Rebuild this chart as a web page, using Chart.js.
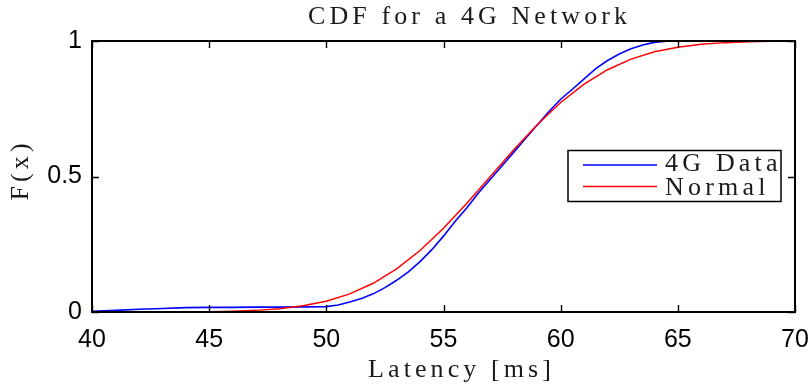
<!DOCTYPE html>
<html>
<head>
<meta charset="utf-8">
<script src="https://cdn.jsdelivr.net/npm/chart.js@4/dist/chart.umd.min.js"></script>
<style>
  html, body { margin: 0; padding: 0; background: #fff; }
  #wrap { width: 811px; height: 387px; }
</style>
</head>
<body>
<div id="wrap"><canvas id="c" width="811" height="387"></canvas></div>
<script>
// ---- data ----
const titleText = 'CDF for a 4G Network';
const xAxisTitle = 'Latency [ms]';
const yAxisTitle = 'F(x)';
const seriesLabels = ['4G Data', 'Normal'];

const xTickValues = [40, 45, 50, 55, 60, 65, 70];
const yTickValues = [0, 0.5, 1];

// empirical CDF of the measured 4G latency (blue)
const dataLatency = [40, 41, 42, 43, 44, 45, 46, 47, 48, 49, 50, 50.5, 51, 51.5, 52, 52.5, 53, 53.5, 54, 54.5,
                     55, 55.5, 56, 56.5, 57, 57.5, 58, 58.5, 59, 59.5, 60, 60.5, 61, 61.5, 62, 62.5, 63, 63.5,
                     64, 64.5, 65, 66, 67, 68, 69, 70];
const dataCdf = [0.003, 0.006, 0.010, 0.013, 0.016, 0.017, 0.017, 0.018, 0.018, 0.019, 0.020, 0.026, 0.037, 0.050,
                 0.067, 0.090, 0.117, 0.148, 0.186, 0.230, 0.280, 0.335, 0.385, 0.440, 0.490, 0.540, 0.590, 0.640,
                 0.690, 0.740, 0.785, 0.822, 0.860, 0.898, 0.928, 0.952, 0.971, 0.985, 0.995, 0.999, 1.000, 1.000,
                 1.000, 1.000, 1.000, 1.000];

// fitted normal CDF (red)
const normalLatency = [40, 41, 42, 43, 44, 45, 46, 47, 48, 49, 50, 51, 52, 53, 54, 55, 56, 57, 58, 59, 60,
                       61, 62, 63, 64, 65, 66, 67, 68, 69, 70];
const normalCdf = [0.000, 0.000, 0.0001, 0.0002, 0.0006, 0.0013, 0.003, 0.006, 0.012, 0.023, 0.040, 0.067, 0.106,
                   0.159, 0.227, 0.309, 0.401, 0.500, 0.599, 0.691, 0.773, 0.841, 0.894, 0.933, 0.960, 0.977,
                   0.988, 0.994, 0.997, 0.9987, 0.9994];

const toPoints = (xs, ys) => xs.map((x, i) => ({ x: x, y: ys[i] }));

const SERIF = '"Liberation Serif", "DejaVu Serif", serif';
const SANS = '"Liberation Sans", Arial, sans-serif';
const TEXT_COLOR = '#1a1a1a';
const SPACING = 4.1;

function spacedText(ctx, text, x, y, align, spacing) {
  ctx.save();
  let w;
  if ('letterSpacing' in ctx) {
    ctx.letterSpacing = spacing + 'px';
    w = ctx.measureText(text).width - spacing;
    ctx.textAlign = 'left';
    let sx = align === 'center' ? x - w / 2 : x;
    ctx.fillText(text, sx, y);
  } else {
    ctx.textAlign = 'left';
    const chars = Array.from(text);
    w = chars.reduce((s, ch) => s + ctx.measureText(ch).width, 0) + spacing * (chars.length - 1);
    let sx = align === 'center' ? x - w / 2 : x;
    for (const ch of chars) { ctx.fillText(ch, sx, y); sx += ctx.measureText(ch).width + spacing; }
  }
  ctx.restore();
}

const framePlugin = {
  id: 'frameAndLegend',
  afterDatasetsDraw(chart) {
    const { ctx, chartArea: a, scales } = chart;
    const xs = scales.x, ys = scales.y;
    ctx.save();
    // ticks (inward, mirrored)
    ctx.strokeStyle = '#000';
    ctx.lineWidth = 1.4;
    const tl = 7;
    ctx.beginPath();
    xTickValues.forEach(v => {
      const px = Math.round(xs.getPixelForValue(v)) + 0.5;
      ctx.moveTo(px, a.bottom); ctx.lineTo(px, a.bottom - tl);
      ctx.moveTo(px, a.top); ctx.lineTo(px, a.top + tl);
    });
    yTickValues.forEach(v => {
      const py = Math.round(ys.getPixelForValue(v)) + 0.5;
      ctx.moveTo(a.left, py); ctx.lineTo(a.left + tl, py);
      ctx.moveTo(a.right, py); ctx.lineTo(a.right - tl, py);
    });
    ctx.stroke();
    // frame
    ctx.lineWidth = 2;
    ctx.strokeRect(a.left, a.top, a.right - a.left, a.bottom - a.top);

    // legend box (inside plot, right side)
    const lx = a.right - 227, ly = ys.getPixelForValue(0.5) - 26;
    const lw = 213, lh = 51;
    ctx.fillStyle = '#fff';
    ctx.fillRect(lx, ly, lw, lh);
    ctx.lineWidth = 1.5;
    ctx.strokeStyle = '#000';
    ctx.strokeRect(lx, ly, lw, lh);
    const colors = chart.data.datasets.map(d => d.borderColor);
    const lineRows = [ly + 14.5, ly + 36];
    const textRows = [ly + 20, ly + 44.5];
    ctx.font = '26px ' + SERIF;
    ctx.textBaseline = 'alphabetic';
    seriesLabels.forEach((lab, i) => {
      ctx.strokeStyle = colors[i];
      ctx.lineWidth = 1.5;
      ctx.beginPath();
      ctx.moveTo(lx + 15, lineRows[i]); ctx.lineTo(lx + 89, lineRows[i]);
      ctx.stroke();
      ctx.fillStyle = TEXT_COLOR;
      spacedText(ctx, lab, lx + 97, textRows[i], 'left', 4.2);
    });
    ctx.restore();
  },
  afterDraw(chart) {
    const { ctx, chartArea: a } = chart;
    ctx.save();
    ctx.fillStyle = TEXT_COLOR;
    ctx.font = '26px ' + SERIF;
    ctx.textBaseline = 'alphabetic';
    const cx = (a.left + a.right) / 2;
    spacedText(ctx, titleText, cx + 24, 24, 'center', SPACING);
    spacedText(ctx, xAxisTitle, cx + 16, 377, 'center', SPACING);
    ctx.translate(28, 172);
    ctx.rotate(-Math.PI / 2);
    spacedText(ctx, yAxisTitle, 0, 0, 'center', SPACING);
    ctx.restore();
  }
};

new Chart(document.getElementById('c'), {
  type: 'line',
  data: {
    datasets: [
      { label: seriesLabels[0], data: toPoints(dataLatency, dataCdf), borderColor: '#0000ff',
        borderWidth: 1.6, pointRadius: 0, tension: 0, fill: false, order: 1 },
      { label: seriesLabels[1], data: toPoints(normalLatency, normalCdf), borderColor: '#ff0000',
        borderWidth: 1.5, pointRadius: 0, tension: 0, fill: false, order: 0 }
    ]
  },
  options: {
    responsive: false,
    animation: false,
    events: [],
    layout: { padding: { top: 41, right: 16, left: 0, bottom: 0 } },
    plugins: { legend: { display: false }, title: { display: false }, tooltip: { enabled: false } },
    scales: {
      x: {
        type: 'linear', min: 40, max: 70,
        grid: { display: false, drawTicks: false }, border: { display: false },
        afterBuildTicks: s => { s.ticks = xTickValues.map(v => ({ value: v })); },
        ticks: { color: '#000', font: { family: SANS, size: 25 }, padding: 13, maxRotation: 0,
                 callback: v => String(v) },
        afterFit: s => { s.height = 75; s.paddingLeft = 0; s.paddingRight = 0; }
      },
      y: {
        type: 'linear', min: 0, max: 1,
        grid: { display: false, drawTicks: false }, border: { display: false },
        afterBuildTicks: s => { s.ticks = yTickValues.map(v => ({ value: v })); },
        ticks: { color: '#000', font: { family: SANS, size: 25 }, padding: 10,
                 callback: v => String(v) },
        afterFit: s => { s.width = 92; s.paddingTop = 0; s.paddingBottom = 0; }
      }
    }
  },
  plugins: [framePlugin]
});
</script>
</body>
</html>
